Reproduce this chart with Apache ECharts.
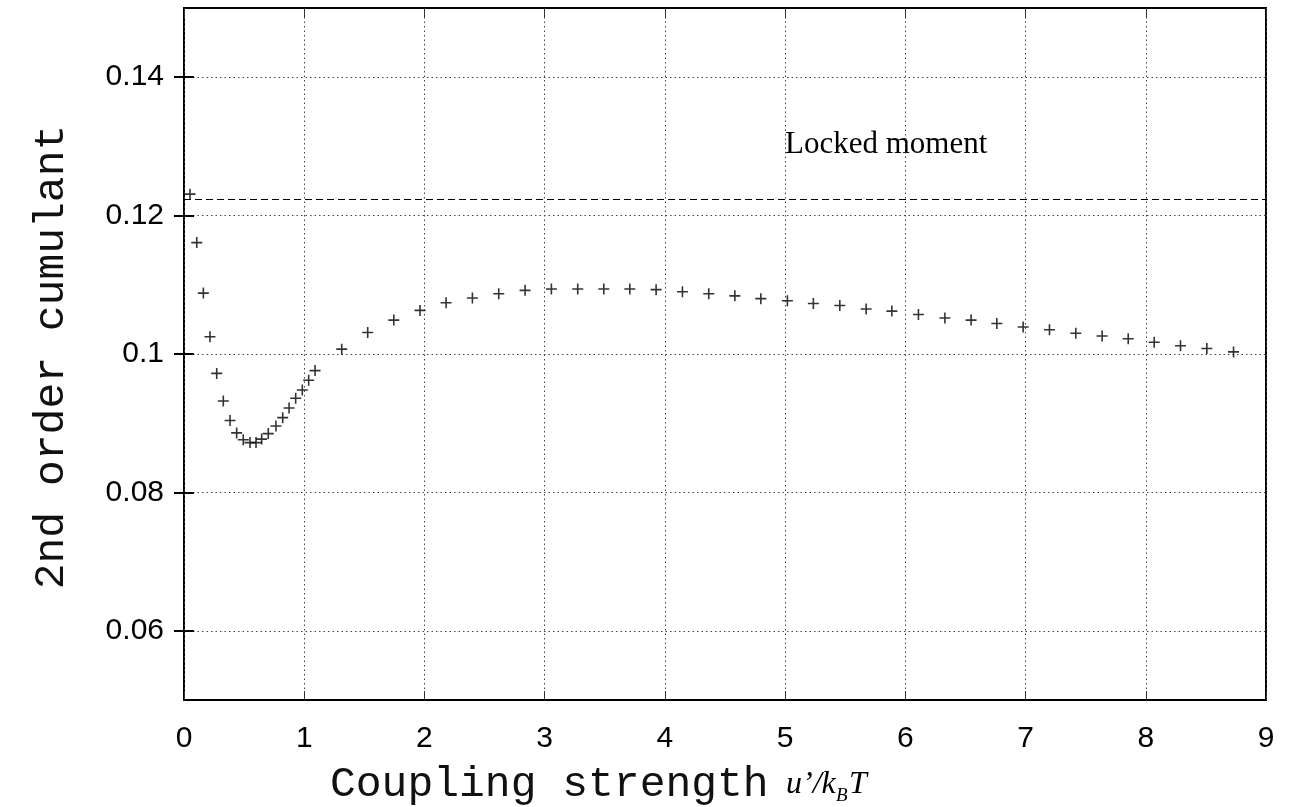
<!DOCTYPE html>
<html>
<head>
<meta charset="utf-8">
<script src="https://cdn.jsdelivr.net/npm/echarts@6/dist/echarts.min.js"></script>
<style>html,body{margin:0;padding:0;background:#fff;}#c{width:1289px;height:807px;}</style>
</head>
<body>
<div id="c"></div>
<script>
// Data
const xValues = [0.050,0.106,0.161,0.216,0.272,0.327,0.383,0.438,0.493,0.549,
  0.599,0.646,0.701,0.765,0.821,0.874,0.929,0.984,1.037,1.090,
  1.312,1.528,1.745,1.963,
  2.180,2.399,2.618,2.837,3.056,3.275,3.492,3.708,3.927,4.146,4.365,4.582,4.798,5.019,5.235,5.455,
  5.674,5.888,6.109,6.329,6.547,6.761,6.980,7.199,7.418,7.637,7.854,8.070,8.289,8.508,8.730];
const yValues = [0.1231,0.1161,0.1088,0.1025,0.0972,0.0932,0.0904,0.0886,0.0876,0.0872,
  0.0872,0.0877,0.0885,0.0896,0.0908,0.0922,0.0936,0.0948,0.0962,0.0976,
  0.1007,0.1031,0.1049,0.1063,
  0.1074,0.1081,0.1087,0.1092,0.1094,0.1094,0.1094,0.1094,0.1093,0.1090,0.1087,0.1084,0.1080,0.1077,0.1073,0.1070,
  0.1065,0.1062,0.1057,0.1052,0.1049,0.1044,0.1039,0.1035,0.1030,0.1026,0.1022,0.1017,0.1012,0.1008,0.1003];
const lockedMoment = 0.1223;
const yTicks = [0.06,0.08,0.1,0.12,0.14];
const xTicks = [0,1,2,3,4,5,6,7,8,9];
const lockedLabel = 'Locked moment';
const yTitle = '2nd order cumulant';
const xTitle = 'Coupling strength';

const points = xValues.map((x, i) => [x, yValues[i]]);

const chart = echarts.init(document.getElementById('c'), null, {renderer: 'canvas'});
const gridLine = {show: true, lineStyle: {color: '#444', width: 1, type: [1.5, 3]}};
const option = {
  backgroundColor: '#fff',
  animation: false,
  grid: {left: 184, right: 23, top: 8, bottom: 107, show: true, borderColor: '#000', borderWidth: 2, backgroundColor: 'transparent'},
  xAxis: [{
    type: 'value', min: 0, max: 9, interval: 1,
    axisLine: {show: false},
    axisTick: {show: true, inside: true, length: 9, customValues: xTicks, lineStyle: {color: '#333', width: 1}},
    axisLabel: {show: true, margin: 24, customValues: xTicks, fontFamily: 'Liberation Sans', fontSize: 30, color: '#000'},
    splitLine: gridLine
  }, {
    type: 'value', min: 0, max: 9, interval: 1, position: 'top',
    axisLine: {show: false},
    axisTick: {show: true, inside: true, length: 9, lineStyle: {color: '#333', width: 1}},
    axisLabel: {show: false}, splitLine: {show: false}
  }],
  yAxis: [{
    type: 'value', min: 0.05, max: 0.15, interval: 0.01,
    axisLine: {show: false},
    axisTick: {show: true, inside: true, length: 10, customValues: yTicks, lineStyle: {color: '#000', width: 2}},
    axisLabel: {show: true, margin: 20, customValues: yTicks, fontFamily: 'Liberation Sans', fontSize: 30, color: '#000'},
    splitLine: Object.assign({customValues: yTicks}, gridLine)
  }, {
    type: 'value', min: 0.05, max: 0.15, interval: 0.01, position: 'right',
    axisLine: {show: false},
    axisTick: {show: true, inside: true, length: 10, customValues: yTicks, lineStyle: {color: '#000', width: 2}},
    axisLabel: {show: false}, splitLine: {show: false}
  }],
  series: [{
    type: 'scatter',
    data: points,
    symbol: 'path://M0,5H10M5,0V10',
    symbolSize: 11,
    itemStyle: {color: 'transparent', borderColor: '#000', borderWidth: 1.6},
    markLine: {
      silent: true, precision: 5, symbol: ['none', 'none'], label: {show: false},
      lineStyle: {color: '#000', width: 1, type: [7, 4]},
      data: [{yAxis: lockedMoment}]
    },
    z: 5
  }],
  graphic: [
    {type: 'text', x: 785, y: 145, style: {text: lockedLabel, font: '31px "Liberation Serif"', fill: '#000', verticalAlign: 'middle'}},
    {type: 'text', x: 330, y: 785, style: {text: xTitle, font: '43px "Liberation Mono"', fill: '#111', verticalAlign: 'middle'}},
    {type: 'text', x: 786, y: 785, style: {text: 'u\u2019/k', font: 'italic 32px "Liberation Serif"', fill: '#000', verticalAlign: 'middle'}},
    {type: 'text', x: 836, y: 796, style: {text: 'B', font: 'italic 19px "Liberation Serif"', fill: '#000', verticalAlign: 'middle'}},
    {type: 'text', x: 849, y: 785, style: {text: 'T', font: 'italic 32px "Liberation Serif"', fill: '#000', verticalAlign: 'middle'}},
    {type: 'text', x: 52, y: 357, rotation: Math.PI / 2, style: {text: yTitle, font: '43px "Liberation Mono"', fill: '#111', align: 'center', verticalAlign: 'middle'}}
  ]
};
chart.setOption(option);
</script>
</body>
</html>
